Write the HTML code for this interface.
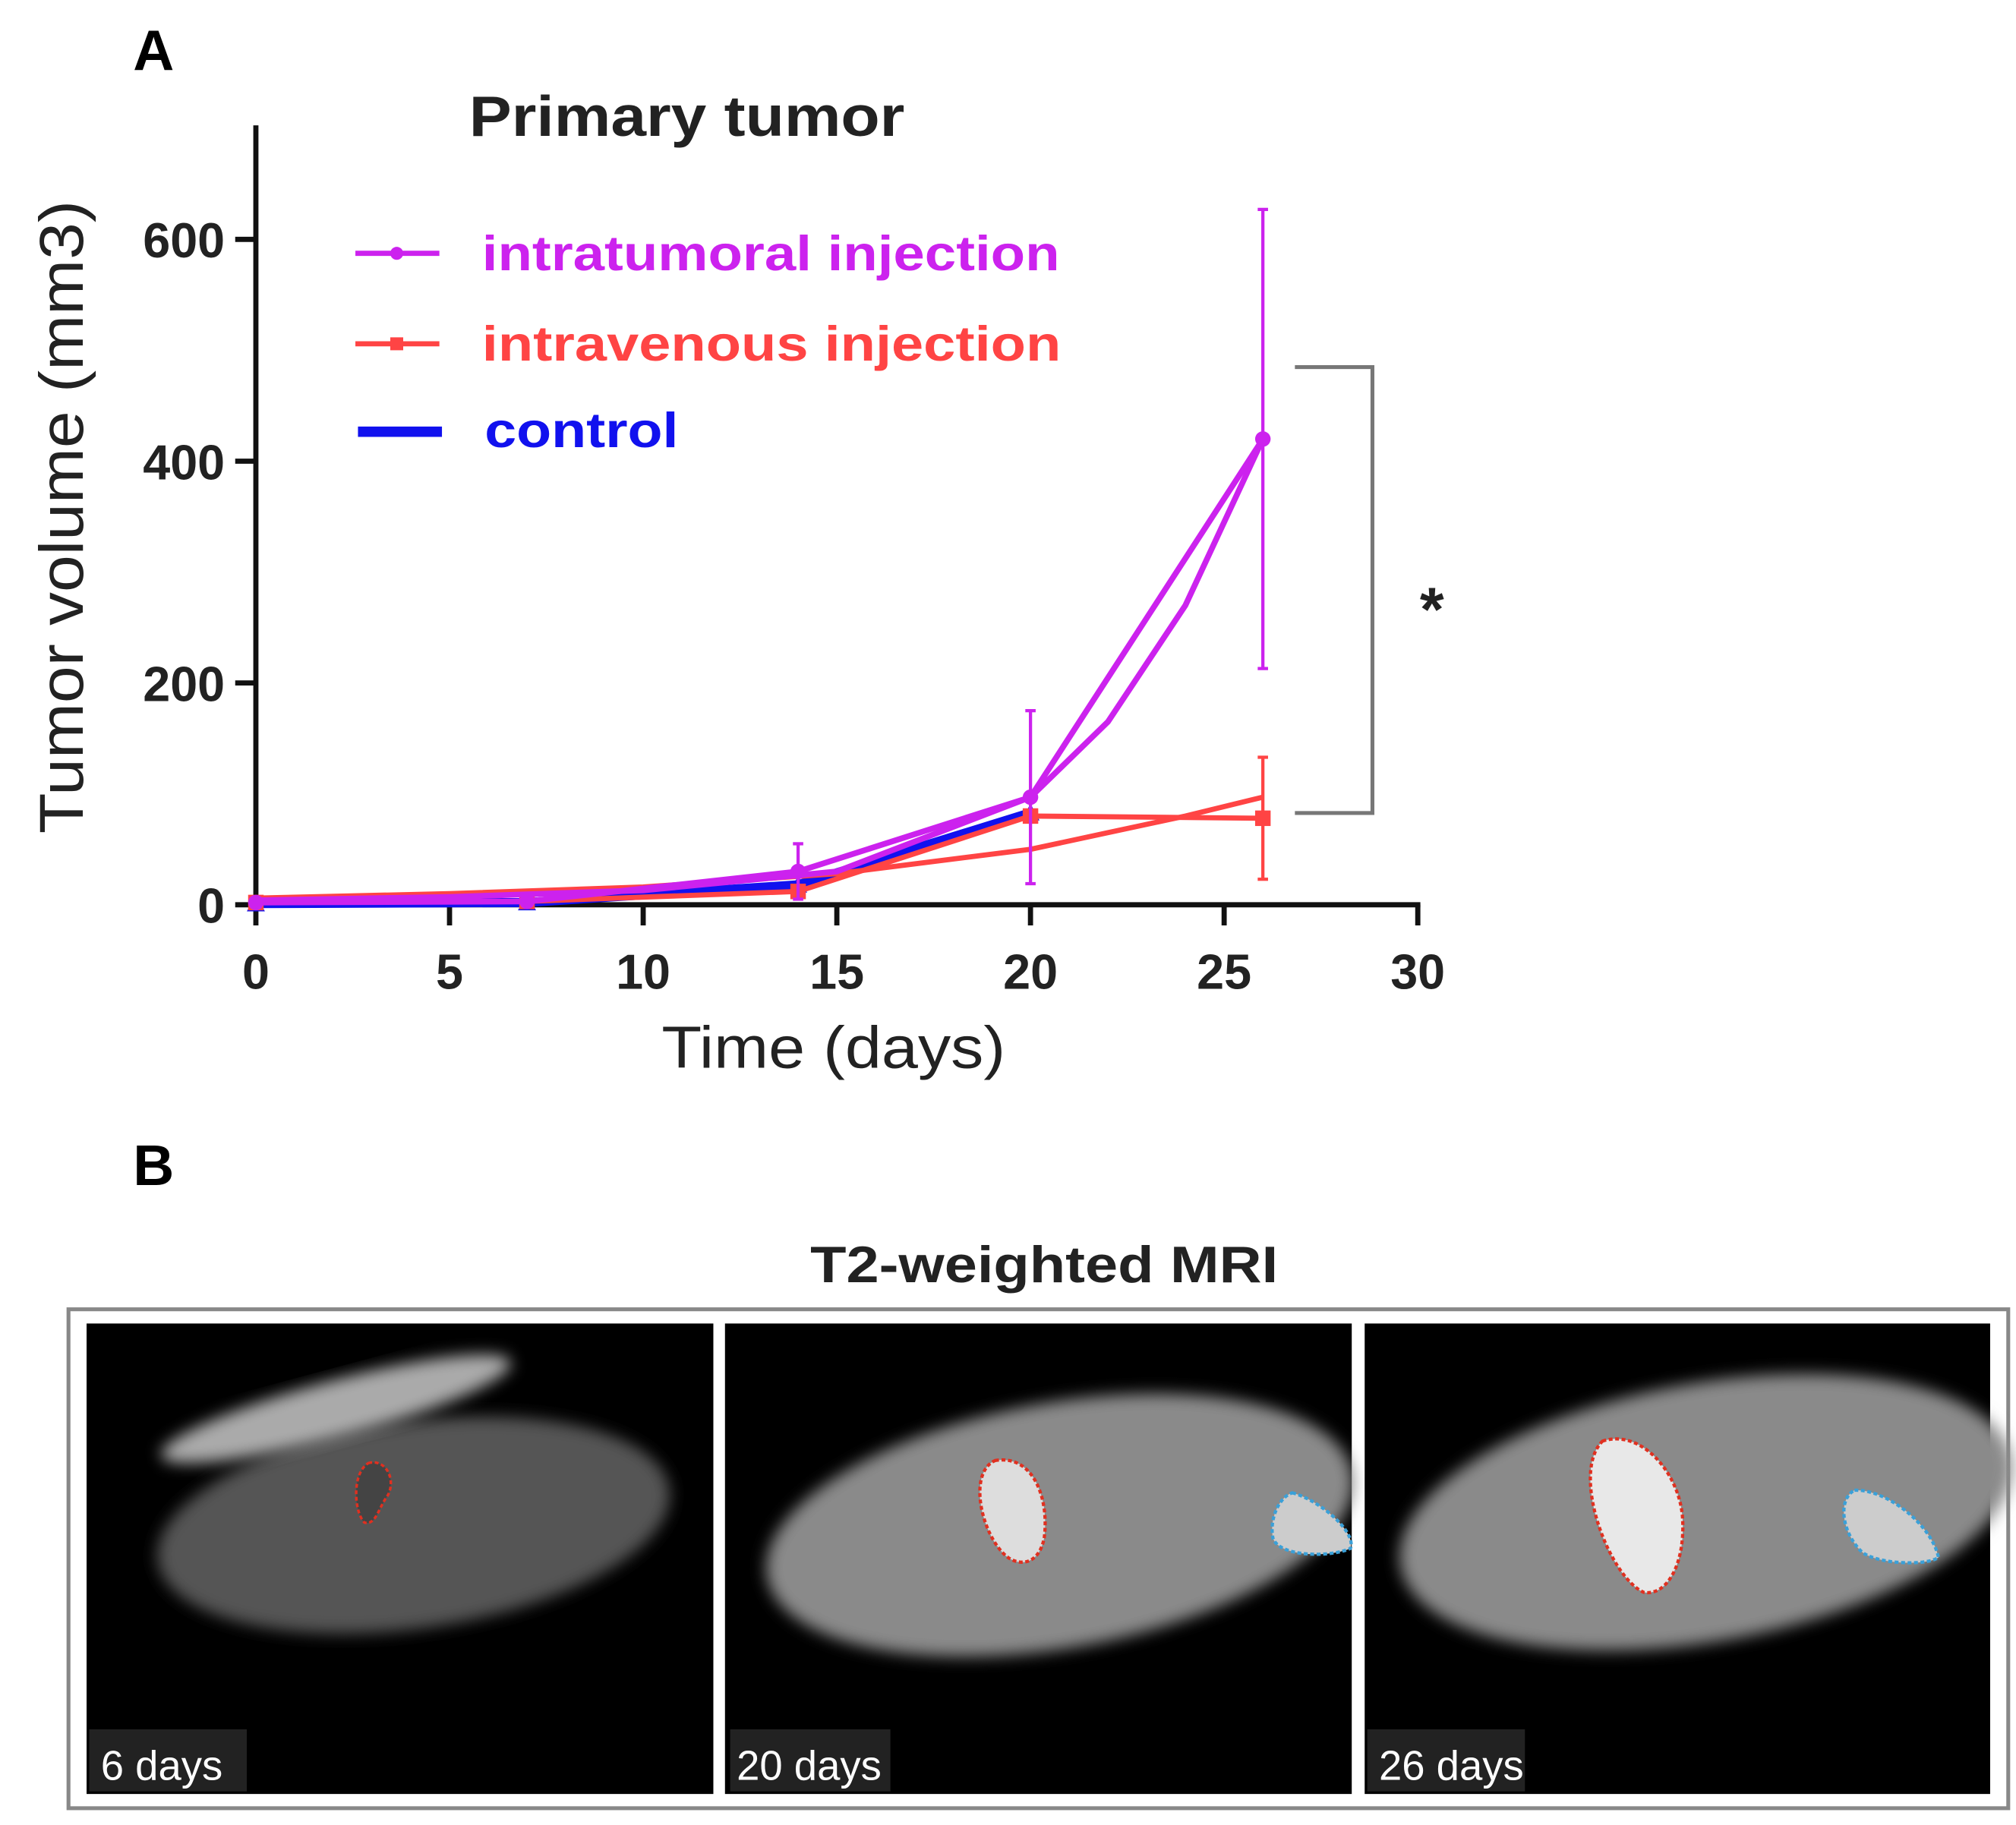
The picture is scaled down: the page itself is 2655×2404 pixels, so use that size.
<!DOCTYPE html>
<html><head><meta charset="utf-8"><style>
html,body{margin:0;padding:0;background:#fff;}
svg{display:block;font-family:"Liberation Sans",sans-serif;}
</style></head><body>
<svg id="fig" width="2655" height="2404" viewBox="0 0 1560 1412" preserveAspectRatio="none" xmlns="http://www.w3.org/2000/svg">
<defs>
<filter id="blur" x="-20%" y="-20%" width="140%" height="140%"><feGaussianBlur stdDeviation="6"/></filter>
</defs>
<text x="103" y="54" font-size="44" font-weight="bold">A</text>
<text x="363" y="105" font-size="44" font-weight="bold" fill="#222" textLength="337" lengthAdjust="spacingAndGlyphs">Primary tumor</text>
<text transform="translate(64,400) rotate(-90)" text-anchor="middle" font-size="48" fill="#222" textLength="490" lengthAdjust="spacingAndGlyphs">Tumor volume (mm3)</text>
<text x="645" y="826" text-anchor="middle" font-size="46" fill="#222" textLength="266" lengthAdjust="spacingAndGlyphs">Time (days)</text>
<g id="axes"></g>
<g id="series"></g>
<g>
 <g><line x1="275" y1="196" x2="340" y2="196" stroke="#cc22ee" stroke-width="4"/><circle cx="307" cy="196" r="5" fill="#cc22ee"/><text x="373" y="209" font-size="38" font-weight="bold" fill="#cc22ee" textLength="447" lengthAdjust="spacingAndGlyphs">intratumoral injection</text></g>
 <g><line x1="275" y1="266" x2="340" y2="266" stroke="#ff4444" stroke-width="4"/><rect x="302" y="261" width="10" height="10" fill="#ff4444"/><text x="373" y="279" font-size="38" font-weight="bold" fill="#ff4444" textLength="448" lengthAdjust="spacingAndGlyphs">intravenous injection</text></g>
 <g><line x1="277" y1="334" x2="342" y2="334" stroke="#1111ee" stroke-width="8"/><text x="375" y="346" font-size="38" font-weight="bold" fill="#1111ee" textLength="150" lengthAdjust="spacingAndGlyphs">control</text></g>
</g>
<g>
 <polyline points="1002,284 1062,284 1062,629 1002,629" fill="none" stroke="#777" stroke-width="3"/>
 <text x="1108" y="488" text-anchor="middle" font-size="48" font-weight="bold" fill="#222">*</text>
</g>
<text x="103" y="917" font-size="44" font-weight="bold">B</text>
<text x="808" y="992" text-anchor="middle" font-size="40" font-weight="bold" fill="#222" textLength="362" lengthAdjust="spacingAndGlyphs">T2-weighted MRI</text>
<rect x="53" y="1013" width="1501" height="386" fill="#fff" stroke="#888" stroke-width="3"/>
<g>
 <rect x="67" y="1024" width="485" height="364" fill="#000"/>
 <ellipse cx="320" cy="1180" rx="200" ry="80" fill="#555" transform="rotate(-8 320 1180)" filter="url(#blur)"/>
 <ellipse cx="260" cy="1090" rx="140" ry="22" fill="#aaa" transform="rotate(-15 260 1090)" filter="url(#blur)"/>
 <path d="M285,1132 C300,1128 308,1148 298,1160 C292,1170 290,1180 282,1178 C274,1170 272,1140 285,1132Z" fill="#444" stroke="#e03020" stroke-width="2" stroke-dasharray="3,2"/>
 <rect x="69" y="1338" width="122" height="48" fill="#222"/>
 <text x="78" y="1377" font-size="32" fill="#fff">6 days</text>
</g>
<g>
 <rect x="561" y="1024" width="485" height="364" fill="#000"/>
 <ellipse cx="820" cy="1180" rx="230" ry="95" fill="#8a8a8a" transform="rotate(-10 820 1180)" filter="url(#blur)"/>
 <path d="M770,1130 C800,1125 812,1160 808,1190 C804,1210 790,1212 780,1205 C760,1190 748,1140 770,1130Z" fill="#ddd" stroke="#e03020" stroke-width="2.5" stroke-dasharray="3,2"/>
 <path d="M1000,1155 C1020,1160 1050,1185 1045,1198 C1030,1205 990,1205 985,1190 C982,1175 990,1158 1000,1155Z" fill="#ccc" stroke="#3aa0d8" stroke-width="2.5" stroke-dasharray="3,2"/>
 <rect x="565" y="1338" width="124" height="48" fill="#222"/>
 <text x="570" y="1377" font-size="32" fill="#fff">20 days</text>
</g>
<g>
 <rect x="1056" y="1024" width="484" height="364" fill="#000"/>
 <ellipse cx="1320" cy="1170" rx="240" ry="100" fill="#8a8a8a" transform="rotate(-10 1320 1170)" filter="url(#blur)"/>
 <path d="M1240,1115 C1270,1105 1300,1140 1302,1175 C1304,1210 1290,1235 1272,1232 C1245,1220 1215,1140 1240,1115Z" fill="#e8e8e8" stroke="#e03020" stroke-width="2.5" stroke-dasharray="3,2"/>
 <path d="M1435,1153 C1460,1152 1495,1180 1500,1205 C1490,1212 1450,1210 1440,1200 C1425,1185 1422,1160 1435,1153Z" fill="#ccc" stroke="#3aa0d8" stroke-width="2.5" stroke-dasharray="3,2"/>
 <rect x="1058" y="1338" width="122" height="48" fill="#222"/>
 <text x="1067" y="1377" font-size="32" fill="#fff">26 days</text>
</g>
</svg>
<script>
const days = [0, 7, 14, 20, 26];
const intratumoral = [2, 3, 30, 97, 420];
const intratumoralErr = [0, 0, 25, 78, 207];
const intravenous = [2, 3, 12, 80, 78];
const intravenousErr = [0, 0, 0, 0, 55];
const control = [1, 2, 18, 83];
const fitDays = [0, 5, 10, 15, 20, 22, 24, 26];
const intratumoralFit = [4, 7, 13, 30, 97, 165, 270, 420];
const intravenousFit = [6, 10, 16, 28, 50, 65, 80, 97];
const xTicks = [0, 5, 10, 15, 20, 25, 30];
const yTicks = [0, 200, 400, 600];

const NS = 'http://www.w3.org/2000/svg';
const X = d => 198 + d * 29.97;
const Y = v => 700 - v * 0.858;
function mk(tag, attrs, parent) {
  const e = document.createElementNS(NS, tag);
  for (const k in attrs) e.setAttribute(k, attrs[k]);
  parent.appendChild(e);
  return e;
}
const axes = document.getElementById('axes');
const series = document.getElementById('series');
const ya = mk('line', {x1: X(0), y1: 97, x2: X(0), y2: Y(0), stroke: '#111', 'stroke-width': 4}, axes);


const xa = mk('line', {x1: X(0) - 2, y1: Y(0), x2: X(30) + 2, y2: Y(0), stroke: '#111', 'stroke-width': 4}, axes);


xTicks.forEach(t => {
  mk('line', {x1: X(t), y1: Y(0), x2: X(t), y2: Y(0) + 16, stroke: '#111', 'stroke-width': 4}, axes);
  const tx = mk('text', {x: X(t), y: Y(0) + 65, 'text-anchor': 'middle', 'font-size': 38, 'font-weight': 'bold', fill: '#222'}, axes);
  tx.textContent = t;
  
  
});
yTicks.forEach(t => {
  mk('line', {x1: X(0) - 16, y1: Y(t), x2: X(0), y2: Y(t), stroke: '#111', 'stroke-width': 4}, axes);
  const tx = mk('text', {x: X(0) - 24, y: Y(t) + 14, 'text-anchor': 'end', 'font-size': 38, 'font-weight': 'bold', fill: '#222'}, axes);
  tx.textContent = t;
  
  
});
function line(xs, ys, color, w, name) {
  const p = mk('polyline', {points: xs.map((d, i) => X(d) + ',' + Y(ys[i])).join(' '), fill: 'none', stroke: color, 'stroke-width': w, 'stroke-linejoin': 'round'}, series);
  
  
}
function errs(vals, e, color, name) {
  vals.forEach((v, i) => {
    if (!e[i]) return;
    const g = mk('g', {stroke: color, 'stroke-width': 2.5}, series);
    
    
    const x = X(days[i]);
    mk('line', {x1: x, y1: Y(v + e[i]), x2: x, y2: Y(Math.max(0, v - e[i]))}, g);
    mk('line', {x1: x - 4, y1: Y(v + e[i]), x2: x + 4, y2: Y(v + e[i])}, g);
    mk('line', {x1: x - 4, y1: Y(Math.max(0, v - e[i])), x2: x + 4, y2: Y(Math.max(0, v - e[i]))}, g);
  });
}
line(days.slice(0, control.length), control, '#1111ee', 7, 'control-line');
control.forEach((v, i) => {
  const m = mk('path', {d: `M${X(days[i])-7},${Y(v)+6} L${X(days[i])+7},${Y(v)+6} L${X(days[i])},${Y(v)-7}Z`, fill: '#1111ee'}, series);
  
  
});
line(fitDays, intravenousFit, '#ff4444', 4, 'intravenous-fit-curve');
line(days, intravenous, '#ff4444', 4, 'intravenous-line');
errs(intravenous, intravenousErr, '#ff4444', 'intravenous-error-bar');
intravenous.forEach((v, i) => {
  const m = mk('rect', {x: X(days[i]) - 6, y: Y(v) - 6, width: 12, height: 12, fill: '#ff4444'}, series);
  
  
});
line(fitDays, intratumoralFit, '#cc22ee', 4.5, 'intratumoral-fit-curve');
line(days, intratumoral, '#cc22ee', 4.5, 'intratumoral-line');
errs(intratumoral, intratumoralErr, '#cc22ee', 'intratumoral-error-bar');
intratumoral.forEach((v, i) => {
  const m = mk('circle', {cx: X(days[i]), cy: Y(v), r: 6, fill: '#cc22ee'}, series);
  
  
});
</script>
</body></html>
